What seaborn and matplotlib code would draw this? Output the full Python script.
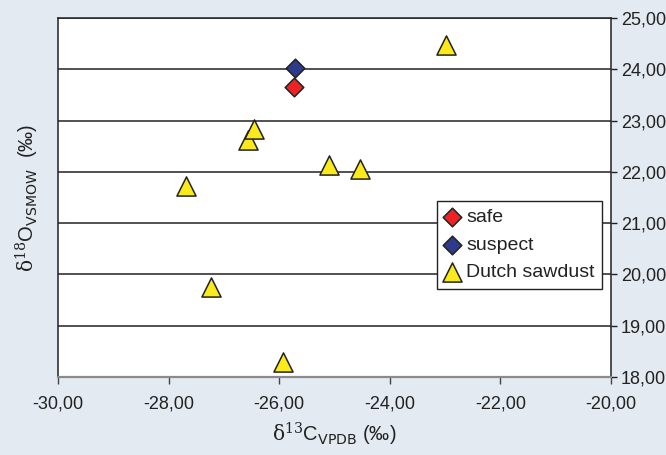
import matplotlib
matplotlib.use('Agg')
import matplotlib.pyplot as plt
import seaborn as sns
import pandas as pd
from matplotlib.ticker import FuncFormatter, MultipleLocator

# data
safe_x = [-25.74]
safe_y = [23.65]
suspect_x = [-25.71]
suspect_y = [24.02]
dutch_x = [-22.98, -26.56, -26.46, -25.10, -24.54, -27.69, -27.23, -25.93]
dutch_y = [24.47, 22.62, 22.84, 22.13, 22.06, 21.73, 19.76, 18.29]

groups = ['safe', 'suspect', 'Dutch sawdust']
colors = {'safe': '#ec2227', 'suspect': '#2e3a8c', 'Dutch sawdust': '#fbea1a'}
markers = {'safe': 'D', 'suspect': 'D', 'Dutch sawdust': '^'}
sizes = {'safe': 90, 'suspect': 90, 'Dutch sawdust': 190}

df = pd.concat([
    pd.DataFrame({'d13C': safe_x, 'd18O': safe_y, 'group': 'safe'}),
    pd.DataFrame({'d13C': suspect_x, 'd18O': suspect_y, 'group': 'suspect'}),
    pd.DataFrame({'d13C': dutch_x, 'd18O': dutch_y, 'group': 'Dutch sawdust'}),
])

sns.set_style('white')
plt.rcParams['font.family'] = ['Liberation Sans', 'DejaVu Sans']
plt.rcParams['mathtext.fontset'] = 'dejavuserif'

bg = '#e4eaf1'
fig = plt.figure(figsize=(6.66, 4.55), dpi=100, facecolor=bg)
ax = fig.add_axes([58 / 666, 78 / 455, 553 / 666, 359 / 455])
ax.set_facecolor('white')

# triangles first, diamonds on top
for g in ['Dutch sawdust', 'safe', 'suspect']:
    sub = df[df['group'] == g]
    sns.scatterplot(data=sub, x='d13C', y='d18O', ax=ax, color=colors[g],
                    marker=markers[g], s=sizes[g], edgecolor='#222222',
                    linewidth=1.1, label=g, legend=False, zorder=3)

ax.set_xlim(-30, -20)
ax.set_ylim(18, 25)
ax.xaxis.set_major_locator(MultipleLocator(2))
ax.yaxis.set_major_locator(MultipleLocator(1))
comma = FuncFormatter(lambda v, p: f'{v:.2f}'.replace('.', ','))
ax.xaxis.set_major_formatter(comma)
ax.yaxis.set_major_formatter(comma)

ax.yaxis.tick_right()
ax.tick_params(axis='y', which='both', left=False, right=True, length=4,
               width=1, color='#222222', labelsize=13, pad=3, labelcolor='#222222')
ax.tick_params(axis='x', bottom=True, length=5, width=1, color='#444444',
               labelsize=13, pad=8, labelcolor='#222222')

ax.yaxis.grid(True, color='#333333', linewidth=1.2)
ax.xaxis.grid(False)
ax.set_axisbelow(True)
for side in ['left', 'right', 'top']:
    ax.spines[side].set_color('#222222')
    ax.spines[side].set_linewidth(1.1)
ax.spines['bottom'].set_color('#8a8a8a')
ax.spines['bottom'].set_linewidth(1.6)

ax.set_xlabel(r'$\mathrm{\delta}^{13}$C$_{\mathsf{VPDB}}$ (‰)', fontsize=14.5, color='#222222', labelpad=6)
ax.set_ylabel(r'$\mathrm{\delta}^{18}$O$_{\mathsf{VSMOW}}$  (‰)', fontsize=14.5, color='#222222', labelpad=12)
ax.yaxis.set_label_position('left')

handles, labels = ax.get_legend_handles_labels()
order = [labels.index(g) for g in groups]
leg = ax.legend([handles[i] for i in order], [labels[i] for i in order],
                loc='upper left', bbox_to_anchor=(0.685, 0.49), fontsize=14,
                frameon=True, fancybox=False, edgecolor='#222222', framealpha=1,
                handlelength=0.8, handletextpad=0.3, borderpad=0.4,
                labelspacing=0.5, borderaxespad=0)
leg.get_frame().set_linewidth(1.0)
for t in leg.get_texts():
    t.set_color('#222222')

plt.savefig('out.png', dpi=100, facecolor=bg)
